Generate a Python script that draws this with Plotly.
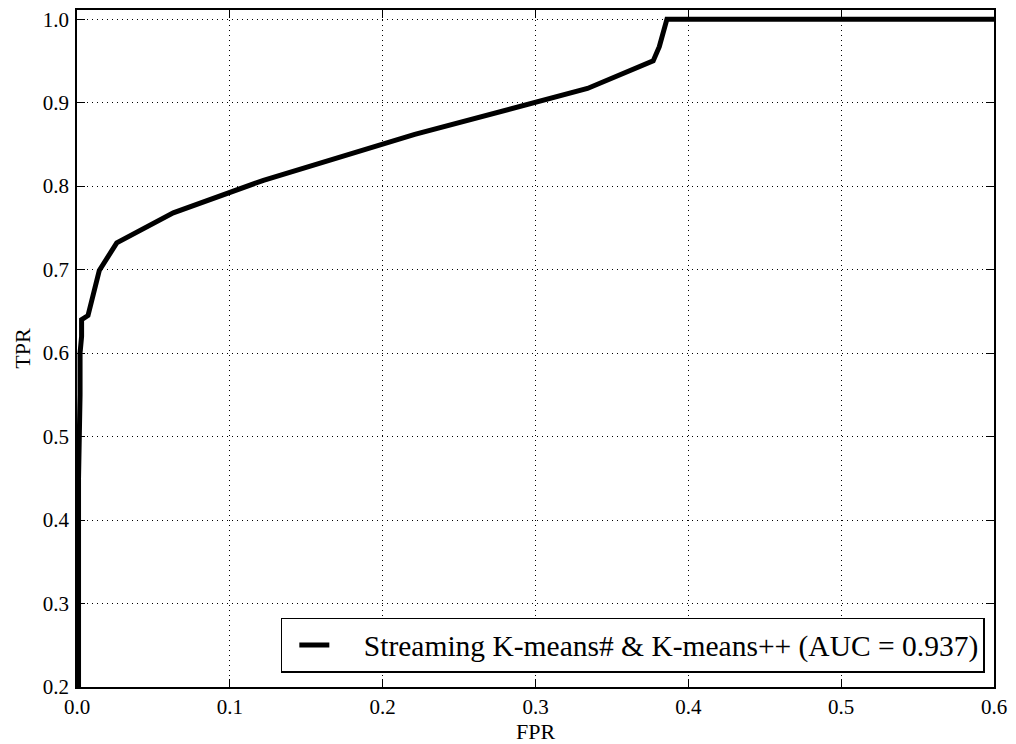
import plotly.graph_objects as go

fpr = [0.001, 0.001, 0.002, 0.002, 0.003, 0.003, 0.0072, 0.010, 0.0146, 0.026, 0.063, 0.122, 0.221, 0.334, 0.377, 0.381, 0.386, 0.6]
tpr = [0.2, 0.45, 0.55, 0.60, 0.62, 0.64, 0.645, 0.665, 0.699, 0.732, 0.768, 0.807, 0.862, 0.917, 0.950, 0.967, 1.0, 1.0]
label = "Streaming K-means# & K-means++ (AUC = 0.937)"
x_ticks = [0.0, 0.1, 0.2, 0.3, 0.4, 0.5, 0.6]
y_ticks = [0.2, 0.3, 0.4, 0.5, 0.6, 0.7, 0.8, 0.9, 1.0]

font = "Liberation Serif"
fig = go.Figure()
fig.add_trace(go.Scatter(x=fpr, y=tpr, mode="lines", name="\u00a0\u00a0\u00a0\u00a0" + label,
                         line=dict(color="black", width=5)))

axis_common = dict(showline=True, linecolor="black", linewidth=1.5, mirror="allticks",
                   ticks="inside", ticklen=8, tickcolor="black", tickwidth=1,
                   showgrid=True, gridcolor="black", griddash="1px,4px", gridwidth=1,
                   zeroline=False, automargin=False,
                   tickfont=dict(family=font, size=21, color="black"))

fig.update_layout(
    width=1016, height=744,
    margin=dict(l=77, r=22, t=10, b=57),
    paper_bgcolor="white", plot_bgcolor="white",
    showlegend=True,
    legend=dict(x=0.990, y=0.021, xanchor="right", yanchor="bottom",
                bordercolor="black", borderwidth=1.5, bgcolor="white",
                indentation=12,
                font=dict(family=font, size=29.5, color="black")),
    xaxis=dict(range=[0, 0.6], tickvals=x_ticks, ticktext=[f"{v:.1f}" for v in x_ticks],
               ticklabelstandoff=0,
               title=dict(text="FPR", font=dict(family=font, size=22, color="black"), standoff=2),
               **axis_common),
    yaxis=dict(range=[0.2, 1.011], tickvals=y_ticks, ticktext=[f"{v:.1f}" for v in y_ticks],
               ticklabelstandoff=2,
               title=dict(text="TPR", font=dict(family=font, size=22, color="black"), standoff=6),
               **axis_common),
)
fig.write_html("out.html")
